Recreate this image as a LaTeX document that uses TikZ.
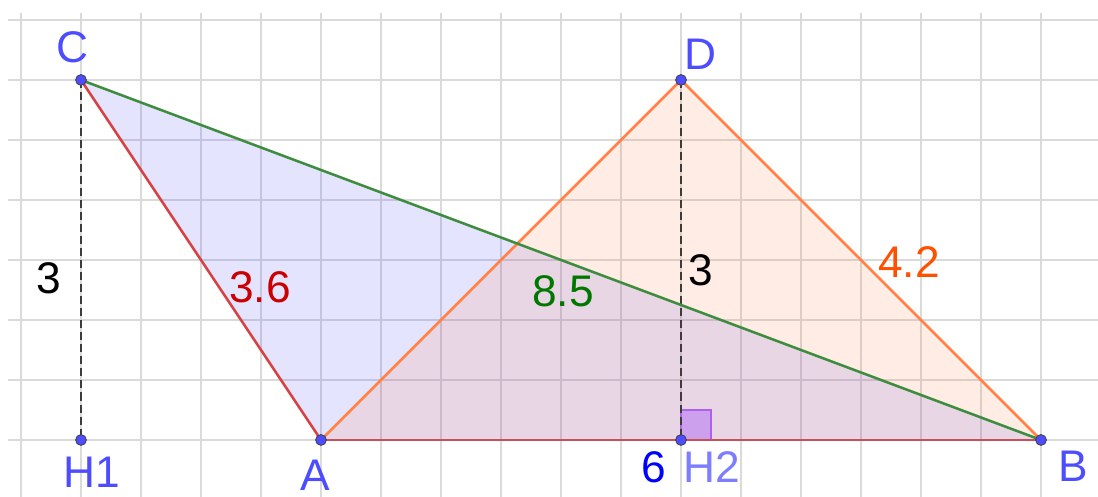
\documentclass[tikz,border=0pt]{standalone}
\usepackage{fontspec}
\setmainfont{Liberation Sans}
\definecolor{gridc}{RGB}{218,218,218}
\definecolor{ptblue}{RGB}{77,77,255}
\definecolor{hlblue}{RGB}{125,125,255}
\definecolor{triblue}{RGB}{77,77,255}
\definecolor{triorange}{RGB}{255,127,80}
\definecolor{edgered}{RGB}{214,66,66}
\definecolor{edgeab}{RGB}{200,80,90}
\definecolor{edgegreen}{RGB}{62,140,62}
\definecolor{edgeorange}{RGB}{255,130,70}
\definecolor{txtred}{RGB}{204,0,0}
\definecolor{txtgreen}{RGB}{0,120,0}
\definecolor{txtorange}{RGB}{255,80,0}
\definecolor{dashc}{RGB}{60,60,60}
\definecolor{sqfill}{RGB}{205,160,238}
\definecolor{sqedge}{RGB}{175,95,240}
\begin{document}
\begin{tikzpicture}[x=1cm,y=1cm,
  pt/.style={circle,fill=ptblue,draw=black!75,line width=0.4pt,inner sep=0pt,minimum size=0.18cm},
  lbl/.style={font=\fontsize{21}{25}\selectfont,inner sep=0pt,anchor=center},
  edge/.style={line width=1.2pt},
  hdash/.style={dashc,line width=1pt,dash pattern=on 3.8pt off 1.9pt}]
\useasboundingbox (-5.35,-0.95) rectangle (12.95,7.333);
% grid
\foreach \y in {0,...,7} \draw[gridc,line width=0.7pt] (-5.217,\y) -- (12.95,\y);
\foreach \x in {-5,...,12} \draw[gridc,line width=0.7pt] (\x,7.117) -- (\x,-0.95);
% coordinates
\coordinate (Cc) at (-4,6);
\coordinate (H1c) at (-4,0);
\coordinate (Ac) at (0,0);
\coordinate (Dc) at (6,6);
\coordinate (H2c) at (6,0);
\coordinate (Bc) at (12,0);
% fills
\fill[triblue,opacity=0.15] (Cc) -- (Ac) -- (Bc) -- cycle;
\fill[triorange,opacity=0.15] (Ac) -- (Dc) -- (Bc) -- cycle;
% right angle
\draw[fill=sqfill,draw=sqedge,line width=0.8pt] (H2c) rectangle ++(0.5,0.5);
% heights
\draw[hdash] (Cc) -- (H1c);
\draw[hdash] (Dc) -- (H2c);
% edges
\draw[edge,edgeorange] (Ac) -- (Dc) -- (Bc);
\draw[edge,edgered] (Cc) -- (Ac);
\draw[edge,edgeab] (Ac) -- (Bc);
\draw[edge,edgegreen] (Cc) -- (Bc);
% points
\node[pt] (C) at (Cc) {};
\node[pt] (H1) at (H1c) {};
\node[pt] (A) at (Ac) {};
\node[pt] (D) at (Dc) {};
\node[pt] (H2) at (H2c) {};
\node[pt] (B) at (Bc) {};
% labels
\node[lbl,ptblue] (lC) at (-4.15,6.55) {C};
\node[lbl,ptblue] (lD) at (6.333,6.433) {D};
\node[lbl,ptblue] (lH1) at (-3.817,-0.533) {H1};
\node[lbl,ptblue] (lA) at (-0.1,-0.59) {A};
\node[lbl,hlblue] (lH2) at (6.517,-0.45) {H2};
\node[lbl,ptblue] (lB) at (12.533,-0.433) {B};
\node[lbl,blue] (l6) at (5.55,-0.45) {6};
\node[lbl,black] (l3a) at (-4.533,2.7) {3};
\node[lbl,txtred] (l36) at (-1.017,2.55) {3.6};
\node[lbl,txtgreen] (l85) at (4.033,2.483) {8.5};
\node[lbl,black] (l3b) at (6.333,2.833) {3};
\node[lbl,txtorange] (l42) at (9.8,2.967) {4.2};
\end{tikzpicture}
\end{document}
